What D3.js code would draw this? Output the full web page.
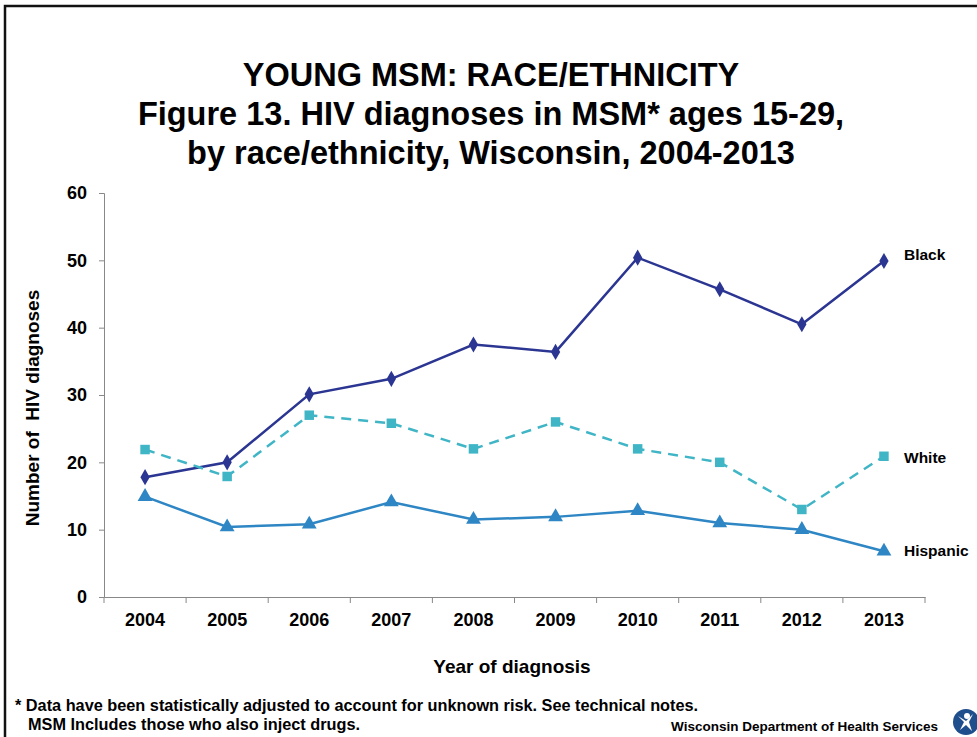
<!DOCTYPE html>
<html>
<head>
<meta charset="utf-8">
<script src="https://cdn.jsdelivr.net/npm/d3@7"></script>
<style>
  body { margin: 0; background: #fff; }
  svg text { font-family: "Liberation Sans", Arial, sans-serif; font-weight: bold; fill: #000; }
</style>
</head>
<body>
<div id="chart"></div>
<script>
"use strict";

const years = ["2004", "2005", "2006", "2007", "2008", "2009", "2010", "2011", "2012", "2013"];
const blackValues = [17.8, 20, 30.1, 32.4, 37.5, 36.4, 50.4, 45.7, 40.5, 49.9];
const whiteValues = [21.9, 17.9, 27, 25.8, 22, 26, 22, 20, 13, 20.9];
const hispanicValues = [14.9, 10.4, 10.8, 14.1, 11.5, 11.9, 12.8, 11, 10, 6.8];
const yTicks = [0, 10, 20, 30, 40, 50, 60];

const svgWidth = 977;
const svgHeight = 737;

const svg = d3.select("#chart")
  .append("svg")
  .attr("width", svgWidth)
  .attr("height", svgHeight)
;

// slide frame
svg.append("path")
  .attr("d", "M5,740 L5,6 L980,6")
  .attr("fill", "none")
  .attr("stroke", "#111")
  .attr("stroke-width", 2.5)
;

// titles
const titleLines = [
  "YOUNG MSM: RACE/ETHNICITY",
  "Figure 13. HIV diagnoses in MSM* ages 15-29,",
  "by race/ethnicity, Wisconsin, 2004-2013"
];
svg.selectAll(".title")
  .data(titleLines)
  .enter()
  .append("text")
  .attr("class", "title")
  .attr("x", 491)
  .attr("y", (d, i) => 86 + i * 39)
  .attr("text-anchor", "middle")
  .style("font-size", "32.5px")
  .text(d => d)
;

const xScale = d3.scaleBand()
  .domain(years)
  .range([104, 925])
;
const yScale = d3.scaleLinear()
  .domain([0, 60])
  .range([597, 193])
;

const tickFont = sel => sel
  .style("font-size", "18px")
  .style("font-family", "Liberation Sans, Arial, sans-serif")
  .style("font-weight", "bold")
  .attr("fill", "#000");

// y axis
const yAxis = svg.append("g")
  .attr("transform", "translate(104,0)")
  .call(d3.axisLeft(yScale).tickValues(yTicks).tickSize(5).tickPadding(12))
;
yAxis.selectAll("line, path").attr("stroke", "#888");
yAxis.selectAll("text").call(tickFont);

// x axis with ticks at category boundaries
const xAxis = svg.append("g")
  .attr("transform", "translate(0,597)")
  .call(d3.axisBottom(xScale).tickSize(0).tickPadding(16))
;
xAxis.select("path").attr("stroke", "#888");
xAxis.selectAll("text").call(tickFont);
svg.append("g")
  .selectAll("line")
  .data(d3.range(years.length + 1))
  .enter()
  .append("line")
  .attr("x1", i => 104 + i * xScale.step())
  .attr("x2", i => 104 + i * xScale.step())
  .attr("y1", 597)
  .attr("y2", 603)
  .attr("stroke", "#888")
;

// axis titles
svg.append("text")
  .attr("x", 512)
  .attr("y", 673)
  .attr("text-anchor", "middle")
  .style("font-size", "19px")
  .text("Year of diagnosis")
;
svg.append("text")
  .attr("transform", "translate(39,408) rotate(-90)")
  .attr("text-anchor", "middle")
  .style("white-space", "pre")
  .style("font-size", "19px")
  .text("Number of  HIV diagnoses")
;

const xPos = d => xScale(d) + xScale.bandwidth() / 2;

const series = [
  { name: "Black", values: blackValues, color: "#2B3592", dash: null, symbol: d3.symbolDiamond, size: 75, labelY: 255 },
  { name: "White", values: whiteValues, color: "#3FB5C6", dash: "10,7", symbol: d3.symbolSquare, size: 90, labelY: 458 },
  { name: "Hispanic", values: hispanicValues, color: "#2E86C4", dash: null, symbol: d3.symbolTriangle, size: 95, labelY: 551 }
];

const line = d3.line()
  .x((d, i) => xPos(years[i]))
  .y(d => yScale(d))
;

series.forEach(s => {
  svg.append("path")
    .datum(s.values)
    .attr("d", line)
    .attr("fill", "none")
    .attr("stroke", s.color)
    .attr("stroke-width", 2.5)
    .attr("stroke-dasharray", s.dash)
  ;
  svg.append("g")
    .selectAll("path")
    .data(s.values)
    .enter()
    .append("path")
    .attr("transform", (d, i) => `translate(${xPos(years[i])},${yScale(d)})`)
    .attr("d", d3.symbol().type(s.symbol).size(s.size))
    .attr("fill", s.color)
  ;
  svg.append("text")
    .attr("x", 904)
    .attr("y", s.labelY)
    .attr("dy", "0.35em")
    .style("font-size", "15.5px")
    .text(s.name)
  ;
});

// footnotes
svg.append("text")
  .attr("x", 15)
  .attr("y", 711)
  .style("font-size", "16.3px")
  .text("* Data have been statistically adjusted to account for unknown risk. See technical notes.")
;
svg.append("text")
  .attr("x", 28)
  .attr("y", 730)
  .style("font-size", "16.3px")
  .text("MSM Includes those who also inject drugs.")
;
svg.append("text")
  .attr("x", 938)
  .attr("y", 731)
  .attr("text-anchor", "end")
  .style("font-size", "13.5px")
  .text("Wisconsin Department of Health Services")
;

// logo
const logo = svg.append("g").attr("transform", "translate(966,722)");
logo.append("circle").attr("r", 13).attr("fill", "#1F4E8C");
logo.append("circle").attr("cx", 1).attr("cy", -6).attr("r", 3).attr("fill", "#fff");
logo.append("path")
  .attr("d", "M-8,-6 L0,-1 L7,-8 L3,0 L6,9 L0,3 L-6,8 L-2,0 Z")
  .attr("fill", "#fff")
;
</script>
</body>
</html>
